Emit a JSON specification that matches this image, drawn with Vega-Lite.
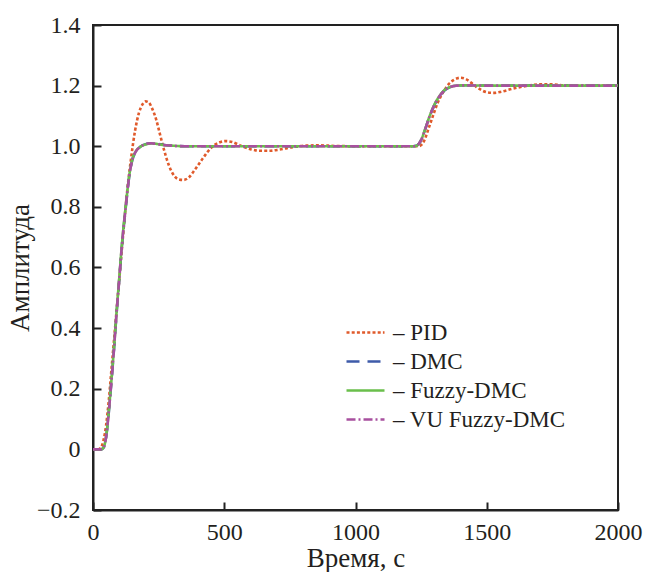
{
  "$schema": "https://vega.github.io/schema/vega-lite/v6.json",
  "width": 525,
  "height": 485,
  "autosize": "none",
  "padding": {"left": 93, "top": 25, "right": 29, "bottom": 62},
  "background": "white",
  "config": {
    "font": "Liberation Serif",
    "view": {"stroke": "#222", "strokeWidth": 2},
    "axis": {
      "grid": false,
      "domainColor": "#222",
      "domainWidth": 2,
      "tickColor": "#222",
      "tickWidth": 2,
      "tickSize": -8,
      "labelFont": "Liberation Serif",
      "labelFontSize": 24,
      "labelColor": "#231f20",
      "titleFont": "Liberation Serif",
      "titleFontSize": 27,
      "titleFontWeight": "normal",
      "titleColor": "#231f20"
    }
  },
  "data": {
    "values": [
      {"t": 0, "y": 0, "s": "PID"}, {"t": 20, "y": 0, "s": "PID"}, {"t": 30, "y": 0.005, "s": "PID"}, {"t": 40, "y": 0.03, "s": "PID"}, {"t": 50, "y": 0.08, "s": "PID"}, {"t": 60, "y": 0.16, "s": "PID"}, {"t": 70, "y": 0.26, "s": "PID"}, {"t": 85, "y": 0.41, "s": "PID"}, {"t": 100, "y": 0.56, "s": "PID"}, {"t": 115, "y": 0.71, "s": "PID"}, {"t": 130, "y": 0.85, "s": "PID"}, {"t": 145, "y": 0.96, "s": "PID"}, {"t": 160, "y": 1.05, "s": "PID"}, {"t": 175, "y": 1.11, "s": "PID"}, {"t": 190, "y": 1.14, "s": "PID"}, {"t": 200, "y": 1.148, "s": "PID"}, {"t": 212, "y": 1.145, "s": "PID"}, {"t": 225, "y": 1.125, "s": "PID"}, {"t": 240, "y": 1.09, "s": "PID"}, {"t": 255, "y": 1.04, "s": "PID"}, {"t": 270, "y": 0.99, "s": "PID"}, {"t": 290, "y": 0.935, "s": "PID"}, {"t": 310, "y": 0.902, "s": "PID"}, {"t": 330, "y": 0.89, "s": "PID"}, {"t": 345, "y": 0.889, "s": "PID"}, {"t": 365, "y": 0.897, "s": "PID"}, {"t": 390, "y": 0.925, "s": "PID"}, {"t": 420, "y": 0.962, "s": "PID"}, {"t": 450, "y": 0.995, "s": "PID"}, {"t": 480, "y": 1.012, "s": "PID"}, {"t": 505, "y": 1.017, "s": "PID"}, {"t": 530, "y": 1.014, "s": "PID"}, {"t": 560, "y": 1.003, "s": "PID"}, {"t": 600, "y": 0.99, "s": "PID"}, {"t": 640, "y": 0.985, "s": "PID"}, {"t": 670, "y": 0.985, "s": "PID"}, {"t": 710, "y": 0.989, "s": "PID"}, {"t": 760, "y": 0.997, "s": "PID"}, {"t": 810, "y": 1.002, "s": "PID"}, {"t": 860, "y": 1.003, "s": "PID"}, {"t": 920, "y": 1.001, "s": "PID"}, {"t": 1000, "y": 1.0, "s": "PID"}, {"t": 1240, "y": 1.0, "s": "PID"}, {"t": 1255, "y": 1.008, "s": "PID"}, {"t": 1265, "y": 1.025, "s": "PID"}, {"t": 1277, "y": 1.055, "s": "PID"}, {"t": 1295, "y": 1.1, "s": "PID"}, {"t": 1314, "y": 1.145, "s": "PID"}, {"t": 1335, "y": 1.18, "s": "PID"}, {"t": 1355, "y": 1.205, "s": "PID"}, {"t": 1375, "y": 1.219, "s": "PID"}, {"t": 1400, "y": 1.226, "s": "PID"}, {"t": 1420, "y": 1.222, "s": "PID"}, {"t": 1440, "y": 1.21, "s": "PID"}, {"t": 1460, "y": 1.196, "s": "PID"}, {"t": 1480, "y": 1.185, "s": "PID"}, {"t": 1500, "y": 1.178, "s": "PID"}, {"t": 1525, "y": 1.176, "s": "PID"}, {"t": 1555, "y": 1.18, "s": "PID"}, {"t": 1600, "y": 1.19, "s": "PID"}, {"t": 1650, "y": 1.199, "s": "PID"}, {"t": 1700, "y": 1.204, "s": "PID"}, {"t": 1750, "y": 1.204, "s": "PID"}, {"t": 1800, "y": 1.201, "s": "PID"}, {"t": 1900, "y": 1.2, "s": "PID"}, {"t": 2000, "y": 1.2, "s": "PID"},

      {"t": 0, "y": 0, "s": "DMC"}, {"t": 30, "y": 0, "s": "DMC"}, {"t": 40, "y": 0.005, "s": "DMC"}, {"t": 50, "y": 0.04, "s": "DMC"}, {"t": 60, "y": 0.12, "s": "DMC"}, {"t": 68, "y": 0.2, "s": "DMC"}, {"t": 80, "y": 0.33, "s": "DMC"}, {"t": 90, "y": 0.45, "s": "DMC"}, {"t": 100, "y": 0.56, "s": "DMC"}, {"t": 110, "y": 0.67, "s": "DMC"}, {"t": 125, "y": 0.8, "s": "DMC"}, {"t": 138, "y": 0.9, "s": "DMC"}, {"t": 150, "y": 0.955, "s": "DMC"}, {"t": 163, "y": 0.982, "s": "DMC"}, {"t": 180, "y": 0.998, "s": "DMC"}, {"t": 200, "y": 1.007, "s": "DMC"}, {"t": 220, "y": 1.01, "s": "DMC"}, {"t": 240, "y": 1.009, "s": "DMC"}, {"t": 260, "y": 1.006, "s": "DMC"}, {"t": 300, "y": 1.002, "s": "DMC"}, {"t": 350, "y": 1.0, "s": "DMC"}, {"t": 1220, "y": 1.0, "s": "DMC"}, {"t": 1235, "y": 1.003, "s": "DMC"}, {"t": 1250, "y": 1.02, "s": "DMC"}, {"t": 1265, "y": 1.055, "s": "DMC"}, {"t": 1283, "y": 1.1, "s": "DMC"}, {"t": 1300, "y": 1.135, "s": "DMC"}, {"t": 1320, "y": 1.165, "s": "DMC"}, {"t": 1340, "y": 1.185, "s": "DMC"}, {"t": 1360, "y": 1.195, "s": "DMC"}, {"t": 1385, "y": 1.2, "s": "DMC"}, {"t": 1420, "y": 1.201, "s": "DMC"}, {"t": 1500, "y": 1.2, "s": "DMC"}, {"t": 2000, "y": 1.2, "s": "DMC"},

      {"t": 0, "y": 0, "s": "Fuzzy-DMC"}, {"t": 30, "y": 0, "s": "Fuzzy-DMC"}, {"t": 40, "y": 0.006, "s": "Fuzzy-DMC"}, {"t": 50, "y": 0.042, "s": "Fuzzy-DMC"}, {"t": 60, "y": 0.125, "s": "Fuzzy-DMC"}, {"t": 68, "y": 0.205, "s": "Fuzzy-DMC"}, {"t": 80, "y": 0.335, "s": "Fuzzy-DMC"}, {"t": 90, "y": 0.455, "s": "Fuzzy-DMC"}, {"t": 100, "y": 0.565, "s": "Fuzzy-DMC"}, {"t": 110, "y": 0.675, "s": "Fuzzy-DMC"}, {"t": 125, "y": 0.805, "s": "Fuzzy-DMC"}, {"t": 138, "y": 0.903, "s": "Fuzzy-DMC"}, {"t": 150, "y": 0.957, "s": "Fuzzy-DMC"}, {"t": 163, "y": 0.983, "s": "Fuzzy-DMC"}, {"t": 180, "y": 0.998, "s": "Fuzzy-DMC"}, {"t": 200, "y": 1.006, "s": "Fuzzy-DMC"}, {"t": 220, "y": 1.009, "s": "Fuzzy-DMC"}, {"t": 240, "y": 1.008, "s": "Fuzzy-DMC"}, {"t": 260, "y": 1.005, "s": "Fuzzy-DMC"}, {"t": 300, "y": 1.002, "s": "Fuzzy-DMC"}, {"t": 350, "y": 1.0, "s": "Fuzzy-DMC"}, {"t": 1220, "y": 1.0, "s": "Fuzzy-DMC"}, {"t": 1235, "y": 1.003, "s": "Fuzzy-DMC"}, {"t": 1250, "y": 1.021, "s": "Fuzzy-DMC"}, {"t": 1265, "y": 1.056, "s": "Fuzzy-DMC"}, {"t": 1283, "y": 1.101, "s": "Fuzzy-DMC"}, {"t": 1300, "y": 1.136, "s": "Fuzzy-DMC"}, {"t": 1320, "y": 1.166, "s": "Fuzzy-DMC"}, {"t": 1340, "y": 1.186, "s": "Fuzzy-DMC"}, {"t": 1360, "y": 1.195, "s": "Fuzzy-DMC"}, {"t": 1385, "y": 1.2, "s": "Fuzzy-DMC"}, {"t": 1420, "y": 1.201, "s": "Fuzzy-DMC"}, {"t": 1500, "y": 1.2, "s": "Fuzzy-DMC"}, {"t": 2000, "y": 1.2, "s": "Fuzzy-DMC"},

      {"t": 0, "y": 0, "s": "VU Fuzzy-DMC"}, {"t": 30, "y": 0, "s": "VU Fuzzy-DMC"}, {"t": 40, "y": 0.005, "s": "VU Fuzzy-DMC"}, {"t": 50, "y": 0.041, "s": "VU Fuzzy-DMC"}, {"t": 60, "y": 0.122, "s": "VU Fuzzy-DMC"}, {"t": 68, "y": 0.202, "s": "VU Fuzzy-DMC"}, {"t": 80, "y": 0.332, "s": "VU Fuzzy-DMC"}, {"t": 90, "y": 0.452, "s": "VU Fuzzy-DMC"}, {"t": 100, "y": 0.562, "s": "VU Fuzzy-DMC"}, {"t": 110, "y": 0.672, "s": "VU Fuzzy-DMC"}, {"t": 125, "y": 0.802, "s": "VU Fuzzy-DMC"}, {"t": 138, "y": 0.901, "s": "VU Fuzzy-DMC"}, {"t": 150, "y": 0.956, "s": "VU Fuzzy-DMC"}, {"t": 163, "y": 0.982, "s": "VU Fuzzy-DMC"}, {"t": 180, "y": 0.998, "s": "VU Fuzzy-DMC"}, {"t": 200, "y": 1.007, "s": "VU Fuzzy-DMC"}, {"t": 220, "y": 1.01, "s": "VU Fuzzy-DMC"}, {"t": 240, "y": 1.008, "s": "VU Fuzzy-DMC"}, {"t": 260, "y": 1.005, "s": "VU Fuzzy-DMC"}, {"t": 300, "y": 1.002, "s": "VU Fuzzy-DMC"}, {"t": 350, "y": 1.0, "s": "VU Fuzzy-DMC"}, {"t": 1220, "y": 1.0, "s": "VU Fuzzy-DMC"}, {"t": 1235, "y": 1.003, "s": "VU Fuzzy-DMC"}, {"t": 1250, "y": 1.02, "s": "VU Fuzzy-DMC"}, {"t": 1265, "y": 1.055, "s": "VU Fuzzy-DMC"}, {"t": 1283, "y": 1.1, "s": "VU Fuzzy-DMC"}, {"t": 1300, "y": 1.135, "s": "VU Fuzzy-DMC"}, {"t": 1320, "y": 1.165, "s": "VU Fuzzy-DMC"}, {"t": 1340, "y": 1.185, "s": "VU Fuzzy-DMC"}, {"t": 1360, "y": 1.195, "s": "VU Fuzzy-DMC"}, {"t": 1385, "y": 1.2, "s": "VU Fuzzy-DMC"}, {"t": 1420, "y": 1.201, "s": "VU Fuzzy-DMC"}, {"t": 1500, "y": 1.2, "s": "VU Fuzzy-DMC"}, {"t": 2000, "y": 1.2, "s": "VU Fuzzy-DMC"}
    ]
  },
  "mark": {"type": "line", "interpolate": "monotone", "strokeWidth": 2.6, "clip": true},
  "encoding": {
    "x": {
      "field": "t", "type": "quantitative",
      "scale": {"domain": [0, 2000], "nice": false},
      "axis": {"values": [0, 500, 1000, 1500, 2000], "format": "d", "title": "Время, с", "labelPadding": 18, "titlePadding": 1, "labelFlush": false}
    },
    "y": {
      "field": "y", "type": "quantitative",
      "scale": {"domain": [-0.2, 1.4], "nice": false, "zero": false},
      "axis": {"values": [-0.2, 0, 0.2, 0.4, 0.6, 0.8, 1.0, 1.2, 1.4], "labelExpr": "datum.value == 0 ? '0' : format(datum.value, '.1f')", "title": "Амплитуда", "labelPadding": 21, "titlePadding": 2, "labelFlush": false}
    },
    "color": {
      "field": "s", "type": "nominal",
      "scale": {"domain": ["PID", "DMC", "Fuzzy-DMC", "VU Fuzzy-DMC"], "range": ["#e05a2b", "#3e5ba9", "#6abf4b", "#a8509f"]},
      "legend": {
        "title": null, "orient": "none", "legendX": 261, "legendY": 296,
        "symbolType": "M-2,0H2", "symbolSize": 361, "symbolStrokeWidth": 2.6,
        "labelFont": "Liberation Serif", "labelFontSize": 23, "labelColor": "#231f20", "labelLimit": 400,
        "labelOffset": 16, "rowPadding": 5,
        "labelExpr": "'– ' + datum.label"
      }
    },
    "strokeDash": {
      "field": "s", "type": "nominal",
      "scale": {"domain": ["PID", "DMC", "Fuzzy-DMC", "VU Fuzzy-DMC"], "range": [[3, 2.2], [13, 8], [1, 0], [9, 3, 2, 3]]},
      "legend": {
        "title": null, "orient": "none", "legendX": 261, "legendY": 296,
        "symbolType": "M-2,0H2", "symbolSize": 361, "symbolStrokeWidth": 2.6,
        "labelFont": "Liberation Serif", "labelFontSize": 23, "labelColor": "#231f20", "labelLimit": 400,
        "labelOffset": 16, "rowPadding": 5,
        "labelExpr": "'– ' + datum.label"
      }
    }
  }
}
